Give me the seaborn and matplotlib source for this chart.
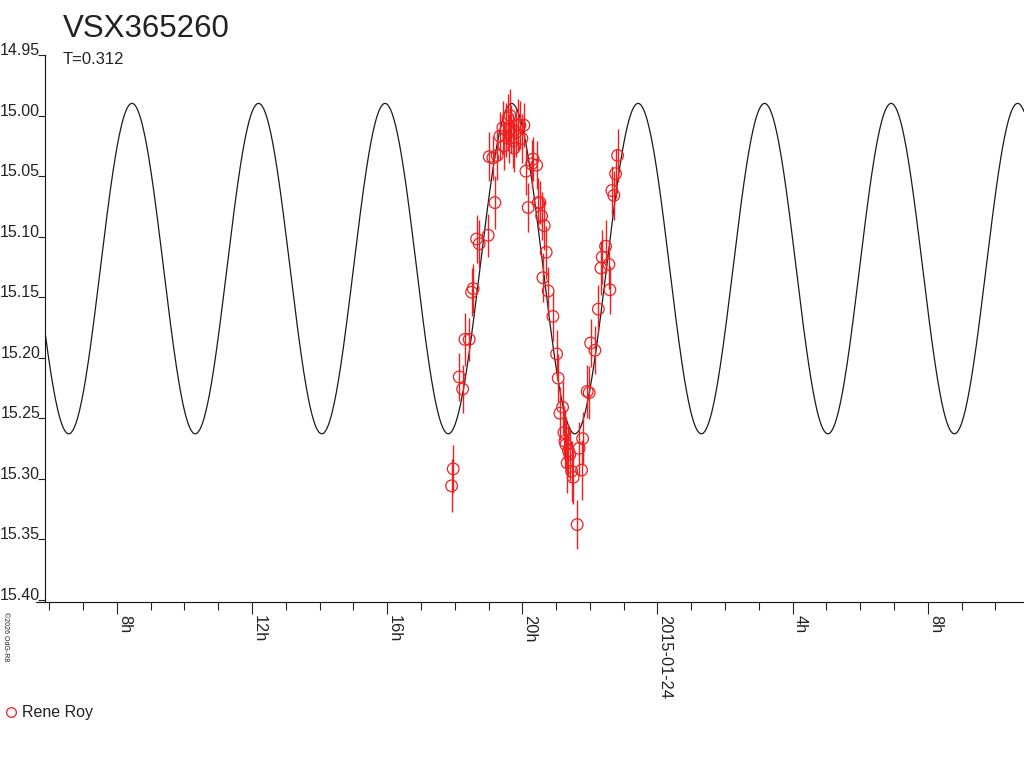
import numpy as np
import pandas as pd
import matplotlib
matplotlib.use("Agg")
import matplotlib.pyplot as plt
import matplotlib.dates as mdates
from matplotlib.ticker import FuncFormatter
from matplotlib.lines import Line2D
import seaborn as sns

# observations: hours since 2015-01-23 00:00 UT, magnitude, error
obs_hour = [17.908, 17.956, 18.133, 18.234, 18.302, 18.429, 18.500, 18.547,
            18.648, 18.725, 18.991, 19.021, 19.130, 19.189, 19.257,
            19.337, 19.426, 19.456, 19.515, 19.574, 19.604, 19.633, 19.663,
            19.722, 19.751, 19.811, 19.870, 19.929, 19.988, 20.047,
            20.107, 20.175, 20.275, 20.322, 20.423, 20.470, 20.521, 20.571,
            20.609, 20.648, 20.707, 20.766, 20.905, 21.015, 21.062, 21.112,
            21.192, 21.231, 21.260, 21.290, 21.328, 21.364, 21.408, 21.459,
            21.506, 21.624, 21.683, 21.754, 21.784,
            21.920, 21.979, 22.021, 22.148, 22.251, 22.325, 22.364, 22.464,
            22.562, 22.592, 22.651, 22.710, 22.760, 22.820]
obs_mag = [15.306, 15.292, 15.216, 15.226, 15.185, 15.185, 15.146, 15.143,
           15.102, 15.106, 15.099, 15.034, 15.035, 15.072, 15.033,
           15.017, 15.010, 15.025, 15.012, 15.002, 15.019, 15.000, 15.011,
           15.021, 15.027, 15.014, 15.008, 15.008, 15.019, 15.008,
           15.046, 15.076, 15.040, 15.036, 15.041, 15.072, 15.072, 15.083,
           15.134, 15.091, 15.113, 15.145, 15.166, 15.197, 15.217, 15.246,
           15.241, 15.262, 15.269, 15.272, 15.287, 15.277, 15.280, 15.294,
           15.299, 15.338, 15.275, 15.293, 15.267,
           15.228, 15.229, 15.188, 15.194, 15.160, 15.126, 15.117, 15.108,
           15.123, 15.144, 15.062, 15.066, 15.048, 15.033]
obs_err = [0.022, 0.020, 0.020, 0.020, 0.022, 0.018, 0.020, 0.020,
           0.020, 0.020, 0.018, 0.020, 0.018, 0.022, 0.020,
           0.020, 0.022, 0.020, 0.022, 0.020, 0.020, 0.022, 0.020,
           0.022, 0.020, 0.020, 0.022, 0.020, 0.020, 0.018,
           0.020, 0.020, 0.020, 0.018, 0.020, 0.020, 0.018, 0.020,
           0.020, 0.020, 0.022, 0.020, 0.020, 0.020, 0.020, 0.022,
           0.022, 0.022, 0.022, 0.022, 0.025, 0.022, 0.022, 0.025,
           0.022, 0.020, 0.022, 0.025, 0.022,
           0.022, 0.022, 0.020, 0.020, 0.020, 0.022, 0.022, 0.022,
           0.020, 0.020, 0.020, 0.020, 0.020, 0.022]

observer = "Rene Roy"
star = "VSX365260"
period_days = 0.312
epoch_max_hour = 8.45   # a light maximum, hours since 2015-01-23 00:00
mag_bright = 14.990
mag_faint = 15.263

y_ticks = [14.95, 15.00, 15.05, 15.10, 15.15, 15.20, 15.25, 15.30, 15.35, 15.40]
x_range_hours = (5.876, 34.846)

t0 = pd.Timestamp("2015-01-23")
obs_time = t0 + pd.to_timedelta(obs_hour, unit="h")

# EW-type model: two equal minima per period
curve_hour = np.linspace(x_range_hours[0], x_range_hours[1], 1500)
mid = (mag_bright + mag_faint) / 2
amp = (mag_faint - mag_bright) / 2
curve_mag = mid - amp * np.cos(4 * np.pi * (curve_hour - epoch_max_hour) / (period_days * 24))
curve_time = t0 + pd.to_timedelta(curve_hour, unit="h")

sns.set_theme(style="ticks")
plt.rcParams["font.family"] = ["Liberation Sans", "DejaVu Sans"]
txt = "#222222"
red = "#f02020"

fig = plt.figure(figsize=(10.24, 7.68), dpi=100)
ax = fig.add_axes([45 / 1024, 1 - 602 / 768, 1 - 45 / 1024, 547 / 768])

sns.lineplot(x=curve_time, y=curve_mag, color="#1a1a1a", linewidth=0.9, ax=ax, sort=False)
ax.errorbar(obs_time, obs_mag, yerr=obs_err, fmt="none", ecolor=red, elinewidth=1.0, capsize=0)
sns.scatterplot(x=obs_time, y=obs_mag, marker="o", s=70, facecolor="none",
                edgecolor=red, linewidth=0.9, ax=ax, zorder=3)

ax.set_xlim(t0 + pd.Timedelta(hours=x_range_hours[0]), t0 + pd.Timedelta(hours=x_range_hours[1]))
ax.set_ylim(15.402, 14.95)
ax.set_xlabel("")
ax.set_ylabel("")

ax.set_yticks(y_ticks)
ax.set_yticklabels([f"{v:.2f}" for v in y_ticks])
for lbl in ax.get_yticklabels():
    lbl.set_va("baseline")

def hour_fmt(x, pos):
    d = mdates.num2date(x)
    if d.hour == 0:
        return d.strftime("%Y-%m-%d")
    return f"{d.hour}h"

ax.xaxis.set_major_locator(mdates.HourLocator(byhour=range(0, 24, 4)))
ax.xaxis.set_minor_locator(mdates.HourLocator())
ax.xaxis.set_major_formatter(FuncFormatter(hour_fmt))
for lbl in ax.get_xticklabels():
    lbl.set_rotation(270)
    lbl.set_ha("left")
    lbl.set_va("top")

ax.tick_params(axis="y", direction="out", length=5, width=0.8, pad=-1.5,
               labelsize=11.5, colors=txt)
ax.tick_params(axis="x", which="major", direction="out", length=8.6, width=0.8,
               pad=1, labelsize=11.8, colors=txt)
ax.tick_params(axis="x", which="minor", direction="out", length=6, width=0.8, colors=txt)

sns.despine(ax=ax)
for side in ["left", "bottom"]:
    ax.spines[side].set_color("#111111")
    ax.spines[side].set_linewidth(0.8)
# the time axis line runs a little past the magnitude axis
ax.plot([-9 / 979, 0], [0, 0], transform=ax.transAxes, clip_on=False,
        color="#111111", lw=0.8)

fig.text(63 / 1024, 1 - 37 / 768, star, fontsize=22.5, color=txt, va="baseline")
fig.text(63 / 1024, 1 - 64 / 768, f"T={period_days}", fontsize=12, color=txt, va="baseline")
fig.text(2 / 1024, 1 - 612 / 768, "\u00a92026 OdG-R8", fontsize=5, color=txt,
         rotation=270, ha="left", va="top")

handle = Line2D([], [], marker="o", ls="none", mfc="none", mec=red, ms=7, mew=0.9)
fig.legend(handles=[handle], labels=[observer], loc="center left",
           bbox_to_anchor=(0.0, 1 - 713 / 768), frameon=False, fontsize=11.5,
           handlelength=1.0, handletextpad=0.2, borderaxespad=0, borderpad=0.2,
           labelcolor=txt)

fig.savefig("out.png", dpi=100)
